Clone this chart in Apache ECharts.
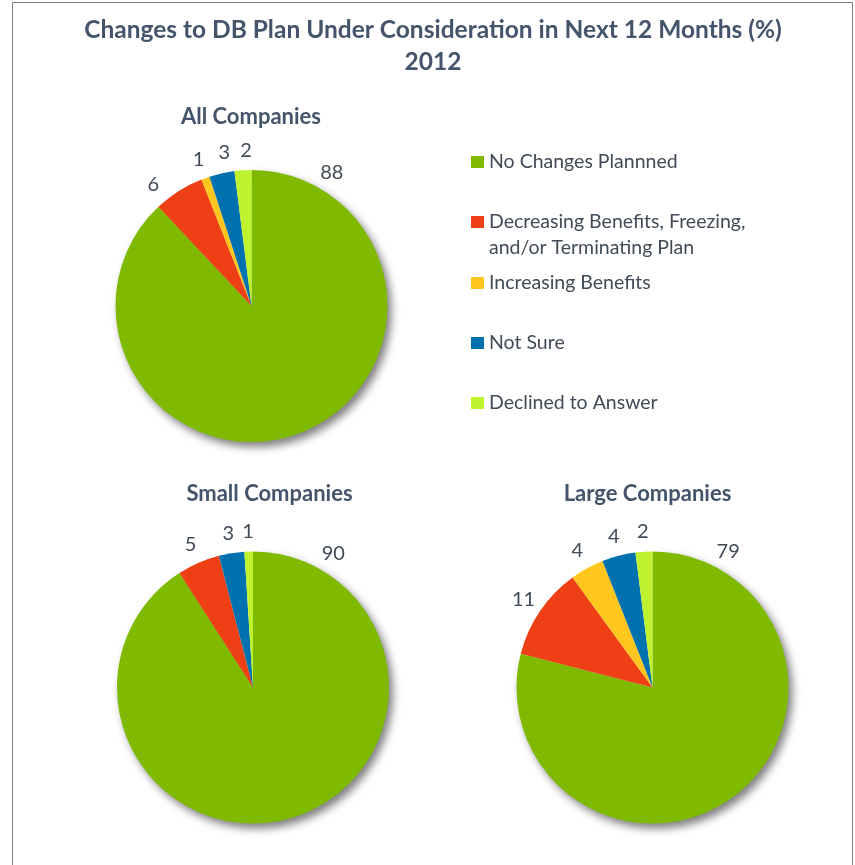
<!DOCTYPE html>
<html><head><meta charset="utf-8">
<script src="https://cdn.jsdelivr.net/npm/echarts@6/dist/echarts.min.js"></script>
<style>html,body{margin:0;padding:0;background:#fff}#c{width:855px;height:865px}</style>
</head><body><div id="c"></div>
<script>
// ---- data ----
const categories = ['No Changes Plannned', 'Decreasing Benefits, Freezing,\nand/or Terminating Plan', 'Increasing Benefits', 'Not Sure', 'Declined to Answer'];
const groups = ['All Companies', 'Small Companies', 'Large Companies'];
const allCompanies = [88, 6, 1, 3, 2];
const smallCompanies = [90, 5, 0, 3, 1];
const largeCompanies = [79, 11, 4, 4, 2];
const chartTitle = 'Changes to DB Plan Under Consideration in Next 12 Months (%)\n2012';

// ---- style / layout ----
const colors = ['#7FBA00', '#EE4014', '#FFC61E', '#0071AF', '#BEF22E'];
const FONT = 'Lato';
const TITLE_COLOR = '#44546A';
const TEXT_COLOR = '#404B57';
const pieCenters = [[251.5, 306], [253, 687.5], [652.5, 687.5]];
const pieRadius = 136;
const labelDist = 156;
// label angle overrides (degrees clockwise from 12 o'clock), per pie: {dataIndex: angle}
const labelAngleOverride = [{ 0: 31, 1: 321, 3: 350, 4: 358 }, { 0: 31 }, { 0: 29 }];
const subTitlePos = [[246, 101], [264.5, 478], [642.5, 478]];
const legendIconY = [162, 222, 283, 343, 403];
const LH = 26;

const seriesValues = [allCompanies, smallCompanies, largeCompanies];

function labelPos(si, di) {
  const vals = seriesValues[si];
  const total = vals.reduce((a, b) => a + b, 0);
  let ang = labelAngleOverride[si][di];
  if (ang == null) {
    let cum = 0;
    for (let i = 0; i < di; i++) cum += vals[i];
    ang = (cum + vals[di] / 2) / total * 360;
  }
  const a = ang * Math.PI / 180;
  const c = pieCenters[si];
  return { x: c[0] + labelDist * Math.sin(a), y: c[1] - labelDist * Math.cos(a) };
}

const series = seriesValues.map((vals, si) => ({
  type: 'pie',
  name: groups[si],
  center: pieCenters[si],
  radius: pieRadius,
  startAngle: 90,
  clockwise: true,
  avoidLabelOverlap: false,
  animation: false,
  silent: true,
  itemStyle: { borderWidth: 0 },
  label: {
    show: true, position: 'outside',
    formatter: p => (p.value ? String(p.value) : ''),
    fontFamily: FONT, fontSize: 20, color: TEXT_COLOR
  },
  labelLine: { show: false },
  labelLayout: function (p) {
    const pos = labelPos(si, p.dataIndex);
    return { x: pos.x, y: pos.y, align: 'center', verticalAlign: 'middle' };
  },
  data: vals.map((v, i) => {
    const d = { name: categories[i], value: v, itemStyle: { color: colors[i] } };
    if (i === 0) {
      d.itemStyle.shadowBlur = 9;
      d.itemStyle.shadowOffsetX = 4;
      d.itemStyle.shadowOffsetY = 5;
      d.itemStyle.shadowColor = 'rgba(0,0,0,0.5)';
    }
    return d;
  })
}));

const titles = [{
  text: chartTitle, left: 428, top: 9, textAlign: 'center',
  textStyle: { fontFamily: FONT, fontSize: 24.5, fontWeight: 'bold', color: TITLE_COLOR, lineHeight: 32 }
}].concat(groups.map((g, i) => ({
  text: g, left: subTitlePos[i][0], top: subTitlePos[i][1], textAlign: 'center',
  textStyle: { fontFamily: FONT, fontSize: 22, fontWeight: 'bold', color: TITLE_COLOR }
})));

const legends = categories.map((name, i) => {
  const multi = name.indexOf('\n') >= 0;
  const ts = { fontFamily: FONT, fontSize: 19.5, color: TEXT_COLOR, lineHeight: LH };
  const h = multi ? 3 * LH : LH;
  const lg = {
    data: [{ name: name, icon: 'rect', itemStyle: { color: colors[i] } }],
    orient: 'vertical', left: 471, top: legendIconY[i] - h / 2,
    padding: 0, itemWidth: 13, itemHeight: 12, itemGap: 0,
    selectedMode: false, textStyle: ts
  };
  if (multi) lg.formatter = n => '\u00a0\n' + n;
  return lg;
});

const chart = echarts.init(document.getElementById('c'), null, { renderer: 'canvas' });
chart.setOption({
  backgroundColor: '#fff',
  animation: false,
  color: colors,
  title: titles,
  legend: legends,
  graphic: [{
    type: 'rect', shape: { x: 12.5, y: 2.5, width: 840, height: 900 },
    style: { fill: 'none', stroke: '#7F7F7F', lineWidth: 1 }, silent: true, z: -10
  }],
  series: series
});
</script></body></html>
